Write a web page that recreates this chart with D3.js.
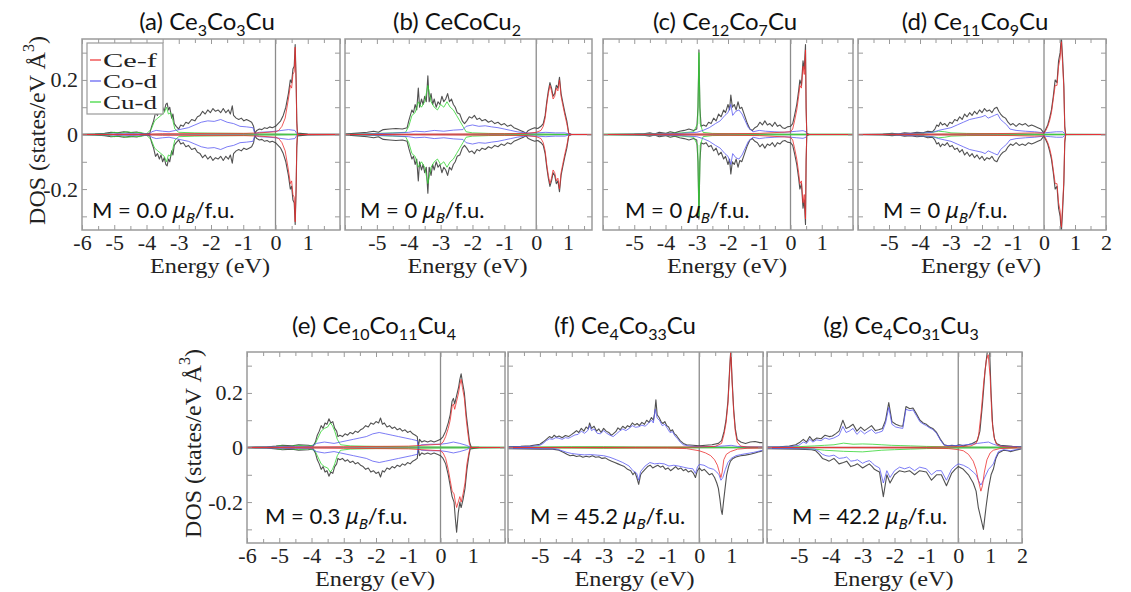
<!DOCTYPE html>
<html>
<head>
<meta charset="utf-8">
<script src="https://cdn.jsdelivr.net/npm/d3@7"></script>
<style>
  body { margin: 0; background: #fff; }
  svg { display: block; }
</style>
</head>
<body>
<div id="chart"></div>
<script>
// ---- data: [energy (eV), DOS (states/eV A^3)]; spin-down stored as magnitudes ----

// (a) Ce3Co3Cu
var aTot = [[-6,0.001],[-5.6,0.002],[-5.3,0.004],[-5.1,0.008],[-4.9,0.006],[-4.7,0.01],[-4.5,0.007],[-4.3,0.009],[-4.1,0.003],[-3.9,0.004],[-3.84,0.03],[-3.78,0.05],[-3.72,0.08],[-3.66,0.07],[-3.6,0.09],[-3.55,0.075],[-3.5,0.1],[-3.45,0.085],[-3.4,0.11],[-3.36,0.115],[-3.32,0.09],[-3.28,0.1],[-3.22,0.06],[-3.18,0.075],[-3.14,0.04],[-3.08,0.03],[-3.0,0.02],[-2.94,0.035],[-2.86,0.03],[-2.78,0.045],[-2.7,0.04],[-2.6,0.055],[-2.5,0.05],[-2.42,0.065],[-2.34,0.07],[-2.26,0.085],[-2.18,0.075],[-2.1,0.09],[-2.02,0.08],[-1.94,0.095],[-1.86,0.085],[-1.78,0.09],[-1.7,0.08],[-1.62,0.095],[-1.54,0.08],[-1.46,0.09],[-1.4,0.075],[-1.34,0.105],[-1.3,0.07],[-1.22,0.06],[-1.14,0.055],[-1.06,0.06],[-0.98,0.05],[-0.9,0.055],[-0.82,0.05],[-0.74,0.045],[-0.68,0.03],[-0.64,0.005],[-0.58,0.015],[-0.5,0.02],[-0.42,0.018],[-0.34,0.025],[-0.26,0.022],[-0.18,0.028],[-0.1,0.025],[0,0.03],[0.08,0.04],[0.16,0.05],[0.24,0.07],[0.32,0.1],[0.4,0.15],[0.46,0.2],[0.5,0.19],[0.54,0.24],[0.58,0.25],[0.61,0.33],[0.64,0.2],[0.66,0.05],[0.68,0.005],[1.0,0.002],[2,0.001]];
var aCef = [[-6,0],[-4,0.001],[-3.5,0.003],[-3,0.003],[-2,0.004],[-1,0.004],[-0.5,0.006],[0,0.01],[0.1,0.015],[0.2,0.03],[0.3,0.06],[0.4,0.13],[0.46,0.18],[0.5,0.17],[0.54,0.22],[0.58,0.23],[0.61,0.32],[0.64,0.19],[0.66,0.04],[0.68,0],[2,0]];
var aCod = [[-6,0],[-5.0,0.002],[-4.5,0.003],[-3.9,0.002],[-3.84,0.01],[-3.7,0.015],[-3.5,0.012],[-3.3,0.01],[-3.1,0.015],[-2.9,0.02],[-2.7,0.025],[-2.5,0.035],[-2.3,0.045],[-2.1,0.05],[-1.9,0.048],[-1.7,0.055],[-1.5,0.045],[-1.3,0.04],[-1.1,0.03],[-0.9,0.028],[-0.7,0.025],[-0.64,0.003],[-0.5,0.008],[-0.2,0.01],[0,0.012],[0.2,0.015],[0.4,0.018],[0.6,0.015],[0.66,0.003],[0.7,0],[2,0]];
var aCud = [[-6,0],[-5.2,0.003],[-5.0,0.008],[-4.8,0.005],[-4.6,0.01],[-4.4,0.006],[-4.2,0.008],[-4.0,0.002],[-3.85,0.02],[-3.75,0.05],[-3.65,0.06],[-3.55,0.07],[-3.45,0.08],[-3.38,0.1],[-3.32,0.075],[-3.25,0.08],[-3.18,0.05],[-3.12,0.02],[-3.0,0.008],[-2.5,0.006],[-2,0.005],[-1,0.004],[-0.5,0.002],[0,0.002],[1,0],[2,0]];

// (b) CeCoCu2
var bTot = [[-6,0.002],[-5.6,0.005],[-5.3,0.008],[-5.1,0.012],[-4.95,0.008],[-4.8,0.018],[-4.6,0.02],[-4.4,0.022],[-4.2,0.02],[-4.05,0.025],[-4.0,0.05],[-3.95,0.07],[-3.9,0.09],[-3.85,0.08],[-3.8,0.11],[-3.75,0.09],[-3.7,0.17],[-3.66,0.1],[-3.6,0.13],[-3.55,0.11],[-3.5,0.14],[-3.45,0.12],[-3.4,0.215],[-3.36,0.12],[-3.3,0.15],[-3.25,0.11],[-3.2,0.13],[-3.14,0.1],[-3.08,0.12],[-3.02,0.11],[-2.96,0.14],[-2.9,0.12],[-2.84,0.13],[-2.78,0.15],[-2.72,0.12],[-2.66,0.13],[-2.6,0.11],[-2.54,0.1],[-2.48,0.08],[-2.4,0.075],[-2.32,0.05],[-2.25,0.04],[-2.18,0.05],[-2.1,0.065],[-2.02,0.06],[-1.94,0.07],[-1.86,0.055],[-1.78,0.06],[-1.7,0.05],[-1.6,0.055],[-1.5,0.045],[-1.4,0.05],[-1.3,0.04],[-1.2,0.045],[-1.1,0.035],[-1.0,0.04],[-0.9,0.03],[-0.8,0.035],[-0.7,0.025],[-0.6,0.02],[-0.5,0.015],[-0.4,0.01],[-0.32,0.004],[-0.25,0.015],[-0.15,0.02],[-0.05,0.025],[0.05,0.022],[0.15,0.03],[0.22,0.04],[0.28,0.07],[0.33,0.12],[0.38,0.16],[0.43,0.19],[0.48,0.17],[0.53,0.14],[0.58,0.15],[0.63,0.18],[0.68,0.17],[0.73,0.21],[0.78,0.15],[0.83,0.12],[0.9,0.08],[0.96,0.05],[1.02,0.005],[1.1,0],[1.75,0]];
var bCef = [[-6,0],[-2.3,0.002],[-1,0.003],[-0.3,0.004],[0,0.008],[0.15,0.015],[0.22,0.03],[0.28,0.06],[0.33,0.11],[0.38,0.15],[0.43,0.18],[0.48,0.16],[0.53,0.13],[0.58,0.14],[0.63,0.17],[0.68,0.16],[0.73,0.2],[0.78,0.14],[0.83,0.11],[0.9,0.07],[0.96,0.04],[1.02,0.003],[1.1,0],[1.75,0]];
var bCod = [[-6,0],[-5,0.003],[-4.5,0.005],[-4.0,0.008],[-3.8,0.012],[-3.5,0.01],[-3.2,0.015],[-2.9,0.012],[-2.6,0.016],[-2.3,0.018],[-2.2,0.03],[-2.0,0.035],[-1.8,0.03],[-1.6,0.032],[-1.4,0.028],[-1.2,0.025],[-1.0,0.02],[-0.8,0.015],[-0.6,0.01],[-0.3,0.005],[0,0.006],[0.3,0.008],[0.6,0.006],[0.9,0.006],[1.02,0.002],[1.1,0],[1.75,0]];
var bCud = [[-6,0],[-5.5,0.002],[-5,0.004],[-4.5,0.006],[-4.1,0.008],[-4.0,0.03],[-3.9,0.07],[-3.8,0.08],[-3.7,0.12],[-3.6,0.1],[-3.5,0.12],[-3.4,0.18],[-3.3,0.12],[-3.2,0.1],[-3.1,0.09],[-3.0,0.11],[-2.9,0.1],[-2.8,0.12],[-2.7,0.1],[-2.6,0.09],[-2.5,0.07],[-2.4,0.05],[-2.3,0.03],[-2.2,0.01],[-2,0.006],[-1.5,0.004],[-1,0.003],[0,0.002],[1,0],[1.75,0]];

// (c) Ce12Co7Cu
var cTot = [[-6,0],[-5,0.001],[-4.7,0.003],[-4.5,0.006],[-4.35,0.002],[-4.2,0.008],[-4.0,0.004],[-3.85,0.01],[-3.7,0.006],[-3.55,0.012],[-3.4,0.015],[-3.25,0.02],[-3.1,0.015],[-3.0,0.02],[-2.96,0.1],[-2.93,0.31],[-2.9,0.1],[-2.86,0.03],[-2.78,0.035],[-2.7,0.03],[-2.62,0.045],[-2.54,0.04],[-2.46,0.06],[-2.38,0.05],[-2.3,0.075],[-2.22,0.065],[-2.14,0.09],[-2.08,0.08],[-2.0,0.11],[-1.95,0.09],[-1.91,0.145],[-1.86,0.1],[-1.8,0.11],[-1.74,0.09],[-1.68,0.12],[-1.62,0.095],[-1.56,0.1],[-1.5,0.08],[-1.44,0.06],[-1.38,0.04],[-1.3,0.02],[-1.22,0.015],[-1.14,0.025],[-1.06,0.03],[-0.98,0.045],[-0.9,0.035],[-0.82,0.05],[-0.74,0.035],[-0.66,0.04],[-0.58,0.03],[-0.5,0.045],[-0.42,0.03],[-0.34,0.035],[-0.26,0.025],[-0.18,0.022],[-0.1,0.028],[0,0.03],[0.07,0.04],[0.13,0.07],[0.2,0.11],[0.26,0.16],[0.3,0.2],[0.35,0.18],[0.4,0.27],[0.44,0.24],[0.48,0.33],[0.5,0.1],[0.52,0.005],[0.6,0],[2,0]];
var cCef = [[-6,0],[-3,0.002],[-1,0.004],[0,0.01],[0.07,0.02],[0.13,0.05],[0.2,0.09],[0.26,0.14],[0.3,0.18],[0.35,0.17],[0.4,0.25],[0.44,0.22],[0.48,0.31],[0.5,0.09],[0.52,0],[2,0]];
var cCod = [[-6,0],[-4.5,0.002],[-3.5,0.004],[-3.0,0.008],[-2.8,0.015],[-2.6,0.025],[-2.4,0.04],[-2.25,0.05],[-2.1,0.07],[-2.0,0.08],[-1.91,0.11],[-1.85,0.07],[-1.75,0.085],[-1.65,0.09],[-1.55,0.075],[-1.45,0.05],[-1.35,0.025],[-1.2,0.01],[-1.0,0.015],[-0.8,0.012],[-0.5,0.01],[-0.2,0.008],[0,0.01],[0.2,0.012],[0.4,0.014],[0.5,0.01],[0.52,0],[2,0]];
var cCud = [[-6,0.001],[-4.5,0.003],[-4.0,0.004],[-3.5,0.006],[-3.1,0.01],[-2.97,0.04],[-2.93,0.3],[-2.89,0.04],[-2.8,0.008],[-2.5,0.004],[-2,0.003],[-1,0.002],[0,0.001],[2,0.001]];

// (d) Ce11Co9Cu
var dTot = [[-6,0],[-5.2,0.001],[-4.9,0.004],[-4.7,0.002],[-4.5,0.006],[-4.3,0.004],[-4.1,0.008],[-3.9,0.006],[-3.75,0.012],[-3.6,0.01],[-3.52,0.02],[-3.46,0.035],[-3.4,0.03],[-3.34,0.045],[-3.28,0.035],[-3.2,0.04],[-3.12,0.03],[-3.04,0.045],[-2.96,0.04],[-2.88,0.055],[-2.8,0.05],[-2.72,0.065],[-2.64,0.055],[-2.56,0.075],[-2.48,0.065],[-2.4,0.08],[-2.32,0.07],[-2.24,0.085],[-2.16,0.075],[-2.08,0.09],[-2.0,0.08],[-1.92,0.095],[-1.84,0.085],[-1.76,0.09],[-1.68,0.08],[-1.6,0.095],[-1.52,0.1],[-1.46,0.085],[-1.4,0.075],[-1.32,0.065],[-1.24,0.06],[-1.16,0.045],[-1.08,0.035],[-1.0,0.04],[-0.9,0.03],[-0.8,0.04],[-0.7,0.035],[-0.6,0.04],[-0.5,0.03],[-0.4,0.035],[-0.3,0.03],[-0.2,0.025],[-0.1,0.02],[0,0.005],[0.06,0.02],[0.12,0.035],[0.18,0.06],[0.24,0.09],[0.3,0.14],[0.36,0.2],[0.42,0.19],[0.47,0.27],[0.52,0.3],[0.56,0.36],[0.6,0.28],[0.64,0.18],[0.67,0.03],[0.7,0],[2,0]];
var dCef = [[-6,0],[-3,0.002],[-1,0.004],[-0.3,0.006],[0,0.005],[0.06,0.015],[0.12,0.03],[0.18,0.05],[0.24,0.08],[0.3,0.13],[0.36,0.18],[0.42,0.18],[0.47,0.25],[0.52,0.28],[0.56,0.34],[0.6,0.26],[0.64,0.17],[0.67,0.02],[0.7,0],[2,0]];
var dCod = [[-6,0],[-5,0.001],[-4.5,0.003],[-4,0.005],[-3.6,0.008],[-3.4,0.015],[-3.2,0.02],[-3.0,0.025],[-2.8,0.035],[-2.6,0.045],[-2.4,0.055],[-2.2,0.06],[-2.0,0.065],[-1.9,0.07],[-1.8,0.06],[-1.7,0.065],[-1.6,0.07],[-1.5,0.075],[-1.4,0.055],[-1.3,0.045],[-1.2,0.035],[-1.1,0.02],[-0.9,0.015],[-0.6,0.012],[-0.3,0.01],[0,0.006],[0.2,0.008],[0.4,0.01],[0.6,0.01],[0.67,0.004],[0.7,0],[2,0]];
var dCud = [[-6,0],[-4.5,0.002],[-4,0.004],[-3.6,0.008],[-3.4,0.012],[-3.2,0.01],[-3.0,0.006],[-2.5,0.004],[-1.5,0.003],[0,0.001],[2,0]];

// (e) Ce10Co11Cu4
var eTot = [[-6,0.001],[-5.4,0.002],[-5.1,0.005],[-4.9,0.008],[-4.6,0.006],[-4.4,0.01],[-4.1,0.008],[-3.95,0.005],[-3.88,0.02],[-3.82,0.045],[-3.76,0.06],[-3.7,0.08],[-3.64,0.07],[-3.58,0.09],[-3.52,0.085],[-3.46,0.105],[-3.4,0.09],[-3.34,0.095],[-3.28,0.07],[-3.22,0.06],[-3.18,0.04],[-3.12,0.045],[-3.04,0.04],[-2.96,0.05],[-2.88,0.045],[-2.8,0.055],[-2.72,0.05],[-2.64,0.06],[-2.56,0.055],[-2.48,0.065],[-2.4,0.07],[-2.32,0.08],[-2.24,0.075],[-2.16,0.09],[-2.08,0.085],[-2.0,0.095],[-1.92,0.09],[-1.86,0.108],[-1.8,0.085],[-1.74,0.09],[-1.66,0.075],[-1.58,0.08],[-1.5,0.07],[-1.42,0.075],[-1.34,0.065],[-1.26,0.07],[-1.18,0.06],[-1.1,0.065],[-1.02,0.055],[-0.94,0.06],[-0.86,0.05],[-0.78,0.045],[-0.72,0.04],[-0.69,0.002],[-0.65,0.03],[-0.58,0.02],[-0.5,0.025],[-0.4,0.02],[-0.3,0.025],[-0.2,0.02],[-0.1,0.025],[0,0.03],[0.08,0.04],[0.16,0.06],[0.24,0.09],[0.3,0.12],[0.36,0.17],[0.4,0.18],[0.44,0.16],[0.5,0.19],[0.56,0.22],[0.6,0.25],[0.64,0.27],[0.68,0.24],[0.74,0.2],[0.8,0.12],[0.85,0.07],[0.9,0.02],[0.95,0.002],[1.2,0.001],[2,0]];
var eTotDnPeak = [[0,0.03],[0.08,0.04],[0.16,0.06],[0.24,0.1],[0.3,0.14],[0.36,0.18],[0.42,0.2],[0.46,0.26],[0.5,0.31],[0.55,0.24],[0.6,0.2],[0.64,0.22],[0.7,0.19],[0.76,0.15],[0.82,0.08],[0.88,0.03],[0.92,0.005],[1.2,0.001],[2,0]];
var eCef = [[-6,0],[-3,0.003],[-1,0.005],[0,0.012],[0.08,0.02],[0.16,0.04],[0.24,0.07],[0.3,0.1],[0.36,0.15],[0.4,0.16],[0.44,0.14],[0.5,0.17],[0.56,0.2],[0.6,0.23],[0.64,0.25],[0.68,0.22],[0.74,0.18],[0.8,0.1],[0.85,0.05],[0.9,0.01],[0.95,0],[2,0]];
var eCefDnPeak = [[0,0.012],[0.08,0.02],[0.16,0.04],[0.24,0.08],[0.3,0.12],[0.36,0.16],[0.42,0.17],[0.46,0.2],[0.5,0.22],[0.55,0.2],[0.6,0.18],[0.64,0.2],[0.7,0.17],[0.76,0.13],[0.82,0.06],[0.88,0.02],[0.92,0],[2,0]];
var eCod = [[-6,0],[-5,0.003],[-4.5,0.004],[-4,0.004],[-3.85,0.015],[-3.6,0.02],[-3.3,0.015],[-3.1,0.02],[-2.9,0.025],[-2.7,0.03],[-2.5,0.035],[-2.3,0.04],[-2.1,0.05],[-1.9,0.055],[-1.7,0.05],[-1.5,0.045],[-1.3,0.04],[-1.1,0.035],[-0.9,0.03],[-0.72,0.025],[-0.69,0.002],[-0.6,0.01],[-0.3,0.012],[0,0.012],[0.2,0.015],[0.4,0.02],[0.6,0.015],[0.8,0.008],[0.95,0],[2,0]];
var eCud = [[-6,0],[-5.2,0.002],[-5,0.006],[-4.7,0.004],[-4.4,0.008],[-4.1,0.005],[-3.9,0.01],[-3.8,0.035],[-3.7,0.06],[-3.6,0.07],[-3.5,0.075],[-3.42,0.09],[-3.35,0.08],[-3.28,0.06],[-3.2,0.03],[-3.1,0.01],[-2.8,0.006],[-2,0.004],[-1,0.003],[0,0.002],[2,0.001]];

// (f) Ce4Co33Cu
var fTotUp = [[-6,0.003],[-5.6,0.004],[-5.3,0.006],[-5.1,0.01],[-5.0,0.012],[-4.9,0.02],[-4.8,0.03],[-4.7,0.04],[-4.62,0.035],[-4.55,0.045],[-4.48,0.038],[-4.4,0.042],[-4.3,0.036],[-4.2,0.044],[-4.1,0.04],[-4.0,0.048],[-3.92,0.055],[-3.85,0.062],[-3.78,0.055],[-3.7,0.07],[-3.62,0.06],[-3.55,0.075],[-3.48,0.068],[-3.44,0.09],[-3.38,0.07],[-3.3,0.078],[-3.22,0.06],[-3.15,0.068],[-3.08,0.055],[-3.0,0.07],[-2.92,0.06],[-2.84,0.055],[-2.76,0.045],[-2.7,0.05],[-2.62,0.058],[-2.55,0.072],[-2.48,0.065],[-2.4,0.078],[-2.32,0.07],[-2.25,0.08],[-2.18,0.075],[-2.1,0.09],[-2.02,0.082],[-1.95,0.088],[-1.88,0.08],[-1.8,0.092],[-1.72,0.085],[-1.65,0.1],[-1.58,0.092],[-1.5,0.11],[-1.44,0.1],[-1.4,0.125],[-1.36,0.175],[-1.32,0.12],[-1.26,0.11],[-1.2,0.095],[-1.14,0.088],[-1.08,0.095],[-1.02,0.08],[-0.96,0.075],[-0.9,0.06],[-0.84,0.065],[-0.78,0.05],[-0.72,0.045],[-0.66,0.035],[-0.6,0.025],[-0.5,0.015],[-0.4,0.01],[-0.2,0.008],[0,0.006],[0.2,0.008],[0.4,0.01],[0.6,0.015],[0.7,0.025],[0.78,0.06],[0.84,0.1],[0.9,0.17],[0.95,0.28],[0.99,0.36],[1.03,0.25],[1.08,0.14],[1.13,0.07],[1.19,0.03],[1.3,0.02],[1.45,0.015],[1.6,0.02],[1.75,0.022],[1.9,0.018],[2,0.018]];
var fCodUp = [[-6,0.002],[-5.3,0.004],[-5.0,0.008],[-4.9,0.015],[-4.8,0.025],[-4.7,0.032],[-4.6,0.03],[-4.5,0.036],[-4.4,0.034],[-4.3,0.03],[-4.2,0.036],[-4.1,0.034],[-4.0,0.04],[-3.9,0.046],[-3.8,0.048],[-3.7,0.06],[-3.6,0.052],[-3.5,0.062],[-3.44,0.08],[-3.38,0.062],[-3.3,0.068],[-3.2,0.052],[-3.1,0.05],[-3.0,0.062],[-2.9,0.052],[-2.8,0.045],[-2.7,0.04],[-2.6,0.05],[-2.5,0.06],[-2.4,0.068],[-2.3,0.062],[-2.2,0.07],[-2.1,0.08],[-2.0,0.074],[-1.9,0.076],[-1.8,0.082],[-1.7,0.078],[-1.6,0.088],[-1.5,0.1],[-1.44,0.09],[-1.38,0.14],[-1.32,0.108],[-1.24,0.098],[-1.16,0.08],[-1.08,0.085],[-1.0,0.07],[-0.92,0.055],[-0.84,0.058],[-0.76,0.042],[-0.68,0.032],[-0.6,0.02],[-0.5,0.01],[-0.3,0.005],[0,0.003],[0.5,0.004],[0.8,0.006],[1.0,0.008],[1.2,0.004],[1.5,0.002],[2,0.002]];
var fCefUp = [[-6,0],[-1,0.001],[0,0.002],[0.5,0.004],[0.7,0.015],[0.78,0.05],[0.84,0.09],[0.9,0.16],[0.95,0.27],[0.99,0.36],[1.03,0.24],[1.08,0.13],[1.13,0.06],[1.19,0.02],[1.3,0.005],[1.5,0.002],[2,0.001]];
var fCudUp = [[-6,0.001],[-4,0.003],[-3,0.003],[-2,0.002],[0,0.001],[2,0.001]];
var fTotDn = [[-6,0.004],[-5.5,0.005],[-5.0,0.006],[-4.6,0.006],[-4.4,0.01],[-4.25,0.018],[-4.15,0.025],[-4.05,0.03],[-3.95,0.028],[-3.85,0.033],[-3.75,0.03],[-3.65,0.036],[-3.55,0.032],[-3.45,0.035],[-3.35,0.03],[-3.25,0.036],[-3.15,0.034],[-3.05,0.04],[-2.95,0.038],[-2.85,0.045],[-2.75,0.05],[-2.65,0.055],[-2.55,0.06],[-2.45,0.065],[-2.35,0.07],[-2.25,0.08],[-2.15,0.085],[-2.08,0.1],[-2.02,0.09],[-1.96,0.11],[-1.9,0.135],[-1.84,0.1],[-1.78,0.09],[-1.7,0.08],[-1.62,0.07],[-1.54,0.065],[-1.46,0.075],[-1.38,0.07],[-1.3,0.065],[-1.22,0.072],[-1.14,0.068],[-1.06,0.08],[-0.98,0.075],[-0.9,0.085],[-0.82,0.078],[-0.74,0.07],[-0.66,0.08],[-0.58,0.075],[-0.5,0.085],[-0.42,0.08],[-0.34,0.09],[-0.26,0.085],[-0.18,0.095],[-0.12,0.11],[-0.06,0.085],[0,0.075],[0.08,0.085],[0.16,0.08],[0.24,0.09],[0.32,0.1],[0.4,0.095],[0.48,0.11],[0.55,0.13],[0.6,0.15],[0.65,0.19],[0.69,0.23],[0.72,0.245],[0.76,0.2],[0.8,0.16],[0.86,0.1],[0.92,0.07],[0.98,0.05],[1.06,0.04],[1.15,0.035],[1.3,0.03],[1.45,0.028],[1.6,0.025],[1.75,0.02],[1.9,0.015],[2,0.012]];
var fCodDn = [[-6,0.003],[-5,0.004],[-4.5,0.005],[-4.3,0.012],[-4.15,0.018],[-4.0,0.022],[-3.8,0.025],[-3.6,0.027],[-3.4,0.026],[-3.2,0.028],[-3.0,0.03],[-2.8,0.036],[-2.6,0.045],[-2.4,0.055],[-2.2,0.068],[-2.08,0.085],[-1.96,0.095],[-1.9,0.12],[-1.84,0.088],[-1.7,0.068],[-1.55,0.055],[-1.4,0.06],[-1.25,0.058],[-1.1,0.06],[-0.95,0.068],[-0.8,0.065],[-0.65,0.068],[-0.5,0.072],[-0.35,0.076],[-0.2,0.078],[-0.12,0.095],[-0.05,0.07],[0,0.062],[0.15,0.065],[0.3,0.075],[0.45,0.08],[0.55,0.09],[0.62,0.1],[0.68,0.12],[0.74,0.11],[0.82,0.08],[0.9,0.055],[1.0,0.04],[1.15,0.03],[1.3,0.026],[1.5,0.022],[1.7,0.018],[2,0.01]];
var fCefDn = [[-6,0],[-1,0.002],[-0.4,0.004],[-0.2,0.008],[0,0.012],[0.2,0.02],[0.36,0.03],[0.48,0.045],[0.57,0.065],[0.63,0.09],[0.68,0.11],[0.72,0.09],[0.77,0.045],[0.85,0.025],[0.98,0.015],[1.2,0.006],[1.5,0.003],[2,0.002]];
var fCudDn = [[-6,0.001],[-4,0.002],[-3,0.003],[-2,0.002],[0,0.001],[2,0.001]];

// (g) Ce4Co31Cu3
var gTotUp = [[-6,0.002],[-5.6,0.003],[-5.3,0.005],[-5.1,0.01],[-4.98,0.018],[-4.86,0.03],[-4.76,0.02],[-4.66,0.04],[-4.56,0.025],[-4.44,0.035],[-4.3,0.032],[-4.18,0.045],[-4.05,0.04],[-3.95,0.042],[-3.85,0.05],[-3.74,0.06],[-3.62,0.1],[-3.52,0.07],[-3.42,0.075],[-3.3,0.085],[-3.18,0.06],[-3.06,0.075],[-2.94,0.062],[-2.84,0.07],[-2.72,0.08],[-2.6,0.062],[-2.5,0.065],[-2.38,0.07],[-2.28,0.1],[-2.18,0.165],[-2.08,0.095],[-1.96,0.085],[-1.84,0.08],[-1.74,0.078],[-1.64,0.15],[-1.52,0.142],[-1.42,0.145],[-1.32,0.125],[-1.2,0.1],[-1.1,0.09],[-1.0,0.085],[-0.9,0.075],[-0.8,0.07],[-0.68,0.055],[-0.56,0.03],[-0.44,0.01],[-0.32,0.006],[-0.2,0.008],[-0.08,0.006],[0.04,0.01],[0.16,0.006],[0.3,0.01],[0.44,0.015],[0.6,0.025],[0.68,0.06],[0.76,0.16],[0.84,0.28],[0.92,0.36],[0.98,0.37],[1.03,0.2],[1.08,0.08],[1.14,0.03],[1.2,0.015],[1.32,0.008],[1.5,0.006],[1.7,0.004],[2,0.003]];
var gCodUp = [[-6,0.001],[-5.3,0.003],[-5.0,0.008],[-4.86,0.02],[-4.76,0.015],[-4.66,0.03],[-4.56,0.02],[-4.44,0.028],[-4.3,0.025],[-4.18,0.035],[-4.05,0.03],[-3.9,0.035],[-3.74,0.045],[-3.62,0.077],[-3.52,0.055],[-3.42,0.06],[-3.3,0.07],[-3.18,0.048],[-3.06,0.062],[-2.94,0.05],[-2.84,0.058],[-2.72,0.066],[-2.6,0.052],[-2.5,0.055],[-2.38,0.06],[-2.28,0.09],[-2.18,0.147],[-2.08,0.085],[-1.96,0.075],[-1.84,0.072],[-1.74,0.07],[-1.64,0.14],[-1.52,0.135],[-1.42,0.138],[-1.32,0.118],[-1.2,0.094],[-1.1,0.086],[-1.0,0.08],[-0.9,0.072],[-0.8,0.066],[-0.68,0.052],[-0.56,0.027],[-0.44,0.008],[-0.2,0.006],[0.1,0.008],[0.4,0.012],[0.6,0.015],[0.8,0.018],[0.95,0.02],[1.1,0.012],[1.3,0.005],[2,0.002]];
var gCefUp = [[-6,0],[-1,0.001],[0,0.003],[0.4,0.006],[0.56,0.015],[0.64,0.045],[0.72,0.13],[0.8,0.24],[0.88,0.32],[0.94,0.34],[1.0,0.26],[1.06,0.1],[1.12,0.04],[1.2,0.012],[1.35,0.003],[2,0]];
var gCudUp = [[-6,0],[-5,0.003],[-4.5,0.006],[-4.2,0.008],[-3.9,0.01],[-3.6,0.016],[-3.3,0.012],[-3.0,0.013],[-2.7,0.012],[-2.4,0.01],[-2.1,0.008],[-1.8,0.007],[-1.5,0.006],[-1.0,0.004],[0,0.002],[2,0.001]];
var gTotDn = [[-6,0.004],[-5.5,0.005],[-5.0,0.006],[-4.6,0.008],[-4.47,0.012],[-4.36,0.025],[-4.26,0.04],[-4.15,0.045],[-4.05,0.05],[-3.9,0.04],[-3.74,0.06],[-3.6,0.055],[-3.5,0.05],[-3.37,0.07],[-3.25,0.065],[-3.16,0.06],[-3.0,0.075],[-2.9,0.068],[-2.79,0.06],[-2.7,0.07],[-2.63,0.08],[-2.55,0.085],[-2.47,0.09],[-2.35,0.18],[-2.24,0.1],[-2.14,0.13],[-2.0,0.1],[-1.84,0.085],[-1.68,0.09],[-1.53,0.085],[-1.37,0.1],[-1.21,0.085],[-1.0,0.09],[-0.84,0.12],[-0.68,0.1],[-0.53,0.1],[-0.37,0.14],[-0.21,0.095],[-0.1,0.08],[0,0.07],[0.16,0.08],[0.32,0.1],[0.47,0.13],[0.56,0.16],[0.63,0.22],[0.71,0.26],[0.79,0.3],[0.87,0.22],[0.95,0.15],[1.03,0.1],[1.1,0.08],[1.18,0.04],[1.26,0.02],[1.42,0.01],[1.55,0.012],[1.63,0.015],[1.8,0.01],[2,0.004]];
var gCodDn = [[-6,0.003],[-5,0.004],[-4.5,0.006],[-4.36,0.015],[-4.26,0.025],[-4.15,0.03],[-4.05,0.032],[-3.9,0.028],[-3.74,0.04],[-3.6,0.038],[-3.5,0.035],[-3.37,0.05],[-3.25,0.048],[-3.16,0.045],[-3.0,0.058],[-2.9,0.052],[-2.79,0.048],[-2.7,0.056],[-2.63,0.065],[-2.55,0.07],[-2.47,0.075],[-2.35,0.13],[-2.24,0.085],[-2.14,0.11],[-2.0,0.085],[-1.84,0.072],[-1.68,0.078],[-1.53,0.072],[-1.37,0.085],[-1.21,0.072],[-1.0,0.078],[-0.84,0.1],[-0.68,0.085],[-0.53,0.085],[-0.37,0.12],[-0.21,0.08],[-0.1,0.068],[0,0.06],[0.16,0.065],[0.32,0.075],[0.47,0.09],[0.56,0.1],[0.63,0.12],[0.71,0.138],[0.79,0.12],[0.87,0.1],[0.95,0.08],[1.03,0.07],[1.1,0.06],[1.18,0.035],[1.26,0.015],[1.42,0.008],[1.55,0.01],[1.63,0.012],[1.8,0.008],[2,0.003]];
var gCefDn = [[-6,0],[-1,0.002],[-0.3,0.004],[0,0.008],[0.16,0.012],[0.32,0.025],[0.47,0.05],[0.56,0.08],[0.63,0.12],[0.71,0.16],[0.76,0.14],[0.82,0.09],[0.9,0.045],[1.0,0.02],[1.1,0.01],[1.3,0.004],[2,0.001]];
var gCudDn = [[-6,0],[-5,0.003],[-4.5,0.006],[-4.2,0.01],[-3.9,0.012],[-3.6,0.014],[-3.3,0.015],[-3.0,0.016],[-2.7,0.013],[-2.4,0.01],[-2,0.008],[-1.5,0.006],[-1,0.004],[0,0.002],[2,0.001]];

// labels
var panelTags = ["(a)", "(b)", "(c)", "(d)", "(e)", "(f)", "(g)"];
var formulas = [
  [["Ce","3"],["Co","3"],["Cu",""]],
  [["CeCoCu","2"]],
  [["Ce","12"],["Co","7"],["Cu",""]],
  [["Ce","11"],["Co","9"],["Cu",""]],
  [["Ce","10"],["Co","11"],["Cu","4"]],
  [["Ce","4"],["Co","33"],["Cu",""]],
  [["Ce","4"],["Co","31"],["Cu","3"]]
];
var moments = ["0.0", "0", "0", "0", "0.3", "45.2", "42.2"];
var xLabelsA = [-6,-5,-4,-3,-2,-1,0,1];
var xLabelsB = [-5,-4,-3,-2,-1,0,1];
var xLabelsD = [-5,-4,-3,-2,-1,0,1,2];
var yLabelVals = [-0.2, 0, 0.2];
var legendNames = ["Ce-f", "Co-d", "Cu-d"];

// spin-down for the non-magnetic cells is the same DOS as spin-up
var eTotDn = eTot.filter(function(d) { return d[0] < 0; }).concat(eTotDnPeak);
var eCefDn = eCef.filter(function(d) { return d[0] < 0; }).concat(eCefDnPeak);

var series = [
  {up: {tot: aTot, cud: aCud, cod: aCod, cef: aCef}, dn: {tot: aTot, cud: aCud, cod: aCod, cef: aCef}},
  {up: {tot: bTot, cud: bCud, cod: bCod, cef: bCef}, dn: {tot: bTot, cud: bCud, cod: bCod, cef: bCef}},
  {up: {tot: cTot, cud: cCud, cod: cCod, cef: cCef}, dn: {tot: cTot, cud: cCud, cod: cCod, cef: cCef}},
  {up: {tot: dTot, cud: dCud, cod: dCod, cef: dCef}, dn: {tot: dTot, cud: dCud, cod: dCod, cef: dCef}},
  {up: {tot: eTot, cud: eCud, cod: eCod, cef: eCef}, dn: {tot: eTotDn, cud: eCud, cod: eCod, cef: eCefDn}},
  {up: {tot: fTotUp, cud: fCudUp, cod: fCodUp, cef: fCefUp}, dn: {tot: fTotDn, cud: fCudDn, cod: fCodDn, cef: fCefDn}},
  {up: {tot: gTotUp, cud: gCudUp, cod: gCodUp, cef: gCefUp}, dn: {tot: gTotDn, cud: gCudDn, cod: gCodDn, cef: gCefDn}}
];

// layout
var layout = [
  {left: 82,  right: 340,  row: 0, xMax: 2,    titleX: 207, mDx: 10, xLabels: xLabelsA, yLabels: true, legend: true},
  {left: 345, right: 592,  row: 0, xMax: 1.75, titleX: 457, mDx: 15, xLabels: xLabelsB},
  {left: 603, right: 853,  row: 0, xMax: 2,    titleX: 725, mDx: 22, xLabels: xLabelsB},
  {left: 858, right: 1106, row: 0, xMax: 2,    titleX: 975, mDx: 25, xLabels: xLabelsD},
  {left: 247, right: 505,  row: 1, xMax: 2,    titleX: 374, mDx: 18, xLabels: xLabelsA, yLabels: true},
  {left: 508, right: 763,  row: 1, xMax: 2,    titleX: 625, mDx: 22, xLabels: xLabelsB},
  {left: 767, right: 1022, row: 1, xMax: 2,    titleX: 901, mDx: 25, xLabels: xLabelsD}
];
var rows = [
  {top: 39,  bottom: 230, titleY: 30,  mY: 218, energyY: 273, ylabX: 45},
  {top: 352, bottom: 543, titleY: 334, mY: 524, energyY: 586, ylabX: 201}
];

var colors = {tot: "#333333", cud: "#33d633", cod: "#5b5bf2", cef: "#ec3030"};
var drawOrder = ["tot", "cud", "cod", "cef"];
var serif = "'Liberation Serif', 'Times New Roman', serif";
var sans = "Lato, 'Open Sans', sans-serif";
var frameColor = "#9a9a9a";

var svg = d3.select("#chart").append("svg")
  .attr("width", 1131)
  .attr("height", 592)
  .style("background", "#fff");

var fmt = function(v) { return v < 0 ? "-" + (-v) : String(v); };

layout.forEach(function(p, i) {
  var r = rows[p.row];
  var x = d3.scaleLinear().domain([-6, p.xMax]).range([p.left, p.right]);
  var y = d3.scaleLinear().domain([-0.35, 0.35]).range([r.bottom, r.top]);
  var g = svg.append("g");

  var clipId = "clip" + i;
  svg.append("clipPath").attr("id", clipId)
    .append("rect")
    .attr("x", p.left).attr("y", r.top)
    .attr("width", p.right - p.left).attr("height", r.bottom - r.top);

  // zero lines
  g.append("line")
    .attr("x1", p.left).attr("x2", p.right)
    .attr("y1", y(0)).attr("y2", y(0))
    .attr("stroke", "#8c8c8c").attr("stroke-width", 1.3);
  g.append("line")
    .attr("x1", x(0)).attr("x2", x(0))
    .attr("y1", r.top).attr("y2", r.bottom)
    .attr("stroke", "#8c8c8c").attr("stroke-width", 1.3);

  // DOS curves
  var plot = g.append("g").attr("clip-path", "url(#" + clipId + ")");
  var lineUp = d3.line().x(function(d) { return x(d[0]); }).y(function(d) { return y(d[1]); });
  var lineDn = d3.line().x(function(d) { return x(d[0]); }).y(function(d) { return y(-d[1]); });
  drawOrder.forEach(function(k) {
    [["up", lineUp], ["dn", lineDn]].forEach(function(s) {
      plot.append("path")
        .datum(series[i][s[0]][k])
        .attr("d", s[1])
        .attr("fill", "none")
        .attr("stroke", colors[k])
        .attr("stroke-width", k === "tot" ? 1.1 : 1)
        .attr("stroke-opacity", k === "tot" ? 0.85 : 0.8)
        .attr("stroke-linejoin", "round");
    });
  });

  // ticks (inward)
  var majorX = d3.range(-6, p.xMax + 0.001, 1);
  var minorX = d3.range(-5.5, p.xMax, 1);
  var yTicks = d3.range(-0.3, 0.31, 0.1);
  var axes = g.append("g").attr("class", "axes");

  var bottomAxis = d3.axisBottom(x).tickValues(majorX).tickSize(-5).tickSizeOuter(0).tickPadding(4)
    .tickFormat(function(d) { return p.xLabels.indexOf(Math.round(d)) >= 0 ? fmt(Math.round(d)) : ""; });
  axes.append("g").attr("transform", "translate(0," + r.bottom + ")").call(bottomAxis);
  axes.append("g").attr("transform", "translate(0," + r.bottom + ")")
    .call(d3.axisBottom(x).tickValues(minorX).tickSize(-4).tickSizeOuter(0).tickFormat(""));
  axes.append("g").attr("transform", "translate(0," + r.top + ")")
    .call(d3.axisTop(x).tickValues(majorX).tickSize(-5).tickSizeOuter(0).tickFormat(""));
  axes.append("g").attr("transform", "translate(0," + r.top + ")")
    .call(d3.axisTop(x).tickValues(minorX).tickSize(-4).tickSizeOuter(0).tickFormat(""));

  var leftAxis = d3.axisLeft(y).tickValues(yTicks).tickSize(-5).tickSizeOuter(0).tickPadding(4)
    .tickFormat(function(d) {
      if (!p.yLabels) return "";
      var v = Math.round(d * 10) / 10;
      return yLabelVals.indexOf(v) >= 0 ? fmt(v) : "";
    });
  axes.append("g").attr("transform", "translate(" + p.left + ",0)").call(leftAxis);
  axes.append("g").attr("transform", "translate(" + p.right + ",0)")
    .call(d3.axisRight(y).tickValues(yTicks).tickSize(-5).tickSizeOuter(0).tickFormat(""));

  axes.selectAll(".domain").remove();
  axes.selectAll(".tick text").filter(function() { return !this.textContent; }).remove();
  axes.selectAll(".tick line").attr("stroke", frameColor).attr("stroke-width", 1);
  axes.selectAll(".tick text")
    .attr("font-family", serif).attr("font-size", 22).attr("fill", "#222");

  // frame
  g.append("rect")
    .attr("x", p.left).attr("y", r.top)
    .attr("width", p.right - p.left).attr("height", r.bottom - r.top)
    .attr("fill", "none").attr("stroke", frameColor).attr("stroke-width", 1.5);

  // x-axis title
  g.append("text")
    .attr("x", (p.left + p.right) / 2 - 1).attr("y", r.energyY)
    .attr("text-anchor", "middle")
    .attr("font-family", serif).attr("font-size", 20).attr("fill", "#222")
    .attr("textLength", 120).attr("lengthAdjust", "spacingAndGlyphs")
    .text("Energy (eV)");

  // panel title
  var t = g.append("text")
    .attr("x", p.titleX).attr("y", r.titleY)
    .attr("text-anchor", "middle")
    .attr("font-family", sans).attr("font-size", 24).attr("fill", "#111");
  t.append("tspan").text(panelTags[i] + " ");
  var lift = 0;
  formulas[i].forEach(function(part) {
    t.append("tspan").attr("dy", lift).text(part[0]);
    lift = 0;
    if (part[1]) {
      t.append("tspan").attr("font-size", 16).attr("dy", 6).text(part[1]);
      lift = -6;
    }
  });

  // magnetic moment label
  var m = g.append("text")
    .attr("x", p.left + p.mDx).attr("y", r.mY)
    .attr("font-family", sans).attr("font-size", 22).attr("fill", "#111");
  m.append("tspan").text("M = " + moments[i] + " ");
  m.append("tspan").attr("font-family", "'Noto Sans', sans-serif").attr("font-style", "italic").text("\u03bc");
  m.append("tspan").attr("font-family", "'Noto Sans', sans-serif").attr("font-style", "italic")
    .attr("font-size", 15).attr("dy", 5).text("B");
  m.append("tspan").attr("dy", -5).text("/f.u.");

  // y-axis title
  if (p.yLabels) {
    var yt = g.append("text")
      .attr("transform", "translate(" + r.ylabX + "," + ((r.top + r.bottom) / 2 - 4) + ") rotate(-90)")
      .attr("text-anchor", "middle")
      .attr("font-family", serif).attr("font-size", 24).attr("fill", "#222");
    yt.append("tspan").text("DOS (states/eV \u00c5");
    yt.append("tspan").attr("font-size", 16).attr("dy", -11).text("3");
    yt.append("tspan").attr("dy", 11).text(")");
  }

  // legend
  if (p.legend) {
    var lg = g.append("g");
    lg.append("rect")
      .attr("x", p.left + 5).attr("y", r.top + 4)
      .attr("width", 76).attr("height", 71)
      .attr("fill", "#fff").attr("stroke", frameColor).attr("stroke-width", 1.2);
    ["cef", "cod", "cud"].forEach(function(k, j) {
      var ly = r.top + 21 + j * 21;
      lg.append("line")
        .attr("x1", p.left + 8).attr("x2", p.left + 19)
        .attr("y1", ly).attr("y2", ly)
        .attr("stroke", colors[k]).attr("stroke-width", 1.2);
      lg.append("text")
        .attr("x", p.left + 21).attr("y", ly + 7)
        .attr("font-family", serif).attr("font-size", 19).attr("fill", "#222")
        .attr("textLength", 54).attr("lengthAdjust", "spacingAndGlyphs")
        .text(legendNames[j]);
    });
  }
});
</script>
</body>
</html>
